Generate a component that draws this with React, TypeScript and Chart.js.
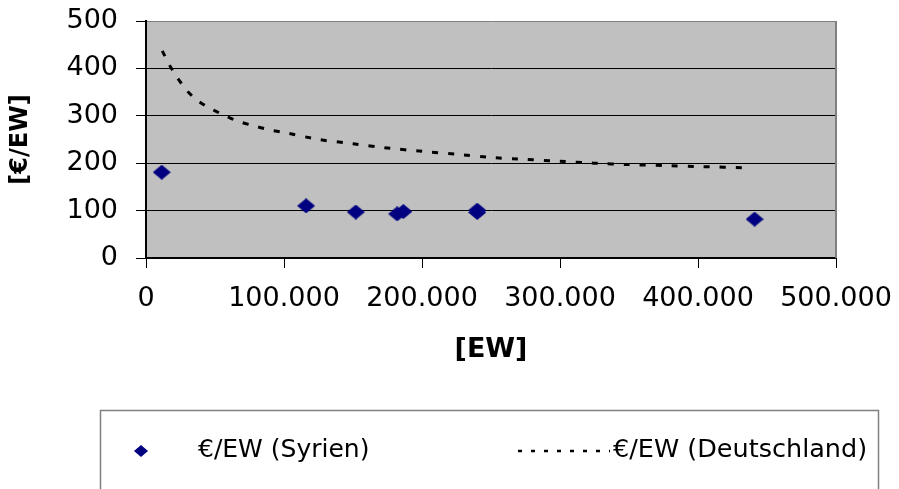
import React, { useEffect, useRef } from 'react';
import { Chart, registerables } from 'chart.js';

Chart.register(...registerables);

// Syrien: population [EW] vs. €/EW
const syrienEW = [11400, 116000, 152000, 182000, 186500, 240000, 240000, 441000];
const syrienValue = [181, 110, 97, 93, 98, 101, 96, 82];

// Deutschland reference curve
const deutschEW = [11800, 17000, 23000, 30000, 36000, 45000, 56000, 66000, 78000, 90000, 100000, 125000, 150000, 175000, 200000, 225000, 250000, 275000, 300000, 325000, 350000, 375000, 400000, 437000];
const deutschValue = [437, 407, 379, 352, 335, 318, 302, 289, 279, 270, 265, 250, 241, 232, 225, 219, 212, 208, 204, 200, 197, 195, 193, 190];

const xTickValues = [0, 100000, 200000, 300000, 400000, 500000];
const yTickValues = [0, 100, 200, 300, 400, 500];

const labelSyrien = '€/EW (Syrien)';
const labelDeutsch = '€/EW (Deutschland)';
const xTitle = '[EW]';
const yTitle = '[€/EW]';

const NAVY = '#000080';
const FONT = "'DejaVu Sans', sans-serif";

function fmtDE(v: number): string {
  return String(Math.round(v)).replace(/\B(?=(\d{3})+(?!\d))/g, '.');
}

function makeDiamond(w: number, h: number): HTMLCanvasElement {
  const c = document.createElement('canvas');
  c.width = w;
  c.height = h;
  const g = c.getContext('2d')!;
  g.fillStyle = NAVY;
  g.beginPath();
  g.moveTo(w / 2, 0);
  g.lineTo(w, h / 2);
  g.lineTo(w / 2, h);
  g.lineTo(0, h / 2);
  g.closePath();
  g.fill();
  return c;
}

function zeroPad(s: any) {
  s.paddingTop = 0;
  s.paddingBottom = 0;
  s.paddingLeft = 0;
  s.paddingRight = 0;
}

export default function App() {
  const ref = useRef<HTMLCanvasElement | null>(null);

  useEffect(() => {
    if (!ref.current) return;
    const diamond = makeDiamond(18, 15);

    const bgPlugin = {
      id: 'plotBg',
      beforeDraw(chart: any) {
        const { ctx, chartArea } = chart;
        ctx.save();
        ctx.fillStyle = '#C0C0C0';
        ctx.fillRect(chartArea.left, chartArea.top, chartArea.right - chartArea.left, chartArea.bottom - chartArea.top);
        ctx.restore();
      },
      afterDraw(chart: any) {
        const { ctx, chartArea } = chart;
        ctx.save();
        // right border of plot area
        ctx.strokeStyle = '#808080';
        ctx.lineWidth = 2;
        ctx.beginPath();
        ctx.moveTo(chartArea.right, chartArea.top);
        ctx.lineTo(chartArea.right, chartArea.bottom);
        ctx.stroke();

        // legend box
        ctx.strokeStyle = '#808080';
        ctx.lineWidth = 1.5;
        ctx.strokeRect(100.5, 410.5, 778, 120);

        const ds0 = chart.data.datasets[0];
        const ds1 = chart.data.datasets[1];
        // legend entry 1: diamond
        ctx.fillStyle = NAVY;
        ctx.beginPath();
        ctx.moveTo(141, 445);
        ctx.lineTo(148, 451);
        ctx.lineTo(141, 457);
        ctx.lineTo(134, 451);
        ctx.closePath();
        ctx.fill();
        ctx.fillStyle = '#000';
        ctx.font = `25px ${FONT}`;
        ctx.textBaseline = 'middle';
        ctx.textAlign = 'left';
        ctx.fillText(ds0.label, 198, 450);

        // legend entry 2: dashed line
        ctx.strokeStyle = '#000';
        ctx.lineWidth = 2.5;
        ctx.setLineDash([4, 9]);
        ctx.beginPath();
        ctx.moveTo(518, 451);
        ctx.lineTo(610, 451);
        ctx.stroke();
        ctx.setLineDash([]);
        ctx.font = `25.5px ${FONT}`;
        ctx.fillText(ds1.label, 613, 450);
        ctx.restore();
      },
    };

    const chart = new Chart(ref.current, {
      type: 'scatter',
      data: {
        datasets: [
          {
            label: labelSyrien,
            data: syrienEW.map((x, i) => ({ x, y: syrienValue[i] })),
            pointStyle: diamond as any,
            pointRadius: 8,
            backgroundColor: NAVY,
            borderColor: NAVY,
            showLine: false,
            order: 1,
          },
          {
            label: labelDeutsch,
            data: deutschEW.map((x, i) => ({ x, y: deutschValue[i] })),
            showLine: true,
            pointRadius: 0,
            borderColor: '#000',
            borderWidth: 3,
            borderDash: [6, 10],
            tension: 0.2,
            fill: false,
            order: 2,
          },
        ],
      },
      options: {
        animation: false,
        responsive: false,
        devicePixelRatio: 1,
        layout: { padding: { left: 0, top: 21, right: 63, bottom: 111 } },
        plugins: {
          legend: { display: false },
          tooltip: { enabled: false },
        },
        scales: {
          x: {
            type: 'linear',
            min: 0,
            max: 500000,
            afterFit: (s: any) => { s.height = 120; zeroPad(s); },
            afterBuildTicks: (s: any) => { s.ticks = xTickValues.map((v) => ({ value: v })); },
            ticks: {
              autoSkip: false,
              maxRotation: 0,
              minRotation: 0,
              padding: 15,
              color: '#000',
              font: { family: FONT, size: 27 },
              callback: (v: any) => fmtDE(Number(v)),
            },
            grid: { drawOnChartArea: false, drawTicks: true, tickLength: 10, color: '#000', lineWidth: 1 },
            border: { display: true, color: '#000', width: 2 },
            title: {
              display: true,
              text: xTitle,
              color: '#000',
              font: { family: FONT, size: 27, weight: 'bold' },
              padding: { top: 0, bottom: 12 },
            },
          },
          y: {
            type: 'linear',
            min: 0,
            max: 500,
            afterFit: (s: any) => { s.width = 146; zeroPad(s); },
            afterBuildTicks: (s: any) => { s.ticks = yTickValues.map((v) => ({ value: v })); },
            ticks: {
              padding: 18,
              color: '#000',
              font: { family: FONT, size: 27 },
              callback: (v: any) => String(v),
            },
            grid: {
              drawTicks: true,
              tickLength: 10,
              lineWidth: 1,
              color: (c: any) => (c.tick && c.tick.value === 500 ? '#808080' : '#000'),
              tickColor: '#000',
            },
            border: { display: true, color: '#000', width: 2 },
            title: {
              display: true,
              text: yTitle,
              color: '#000',
              font: { family: FONT, size: 24, weight: 'bold' },
              padding: { top: 6, bottom: 0 },
            },
          },
        },
      },
      plugins: [bgPlugin],
    });

    return () => chart.destroy();
  }, []);

  return (
    <div style={{ position: 'absolute', left: 0, top: 0, width: 899, height: 489, background: '#fff' }}>
      <canvas ref={ref} width={899} height={489} style={{ display: 'block', width: 899, height: 489 }} />
    </div>
  );
}
